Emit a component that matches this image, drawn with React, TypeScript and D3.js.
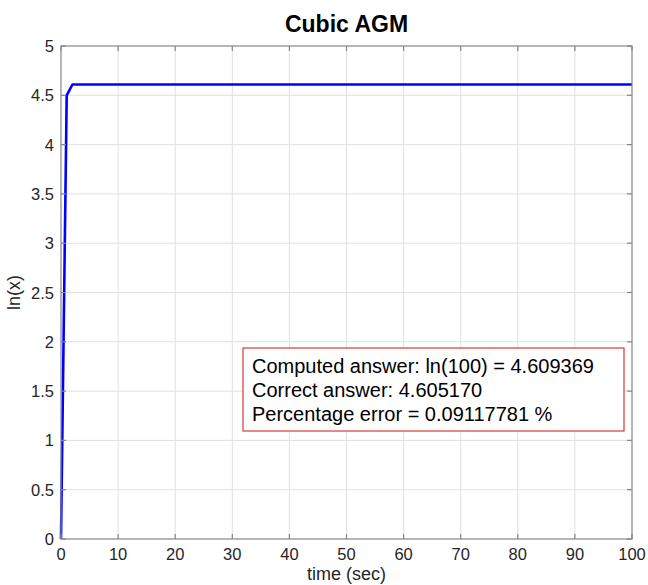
import React from "react";
import * as d3 from "d3";

const width = 648;
const height = 585;
const margin = { top: 46, right: 16, bottom: 46, left: 61 };

// iteration time vs ln(x) estimate
const times = [0, 1, 2, 100];
const values = [0, 4.5, 4.609369, 4.609369];

const xTicks = [0, 10, 20, 30, 40, 50, 60, 70, 80, 90, 100];
const yTicks = [0, 0.5, 1, 1.5, 2, 2.5, 3, 3.5, 4, 4.5, 5];

const infoLines = [
  "Computed answer: ln(100) = 4.609369",
  "Correct answer: 4.605170",
  "Percentage error = 0.09117781 %"
];

const font = "'Liberation Sans', Arial, Helvetica, sans-serif";

export default function App() {
  const x = d3
    .scaleLinear()
    .domain([0, 100])
    .range([margin.left, width - margin.right]);
  const y = d3
    .scaleLinear()
    .domain([0, 5])
    .range([height - margin.bottom, margin.top]);

  const points = times.map((t, i) => [t, values[i]] as [number, number]);
  const line = d3
    .line<[number, number]>()
    .x(d => x(d[0]))
    .y(d => y(d[1]));

  const x0 = x(0), x1 = x(100), y0 = y(0), y1 = y(5);
  const tick = 5;
  const axisColor = "#858585";

  return (
    <svg width={width} height={height} style={{ position: "absolute", left: 0, top: 0, background: "#fff" }}>
      <rect x={0} y={0} width={width} height={height} fill="#fff" />
      {/* grid */}
      <g stroke="#e0e0e0" strokeWidth={1}>
        {xTicks.slice(1, -1).map(t => (
          <line key={"gx" + t} x1={x(t)} x2={x(t)} y1={y0} y2={y1} />
        ))}
        {yTicks.slice(1, -1).map(t => (
          <line key={"gy" + t} x1={x0} x2={x1} y1={y(t)} y2={y(t)} />
        ))}
      </g>
      {/* data */}
      <path d={line(points) || ""} fill="none" stroke="#0000ff" strokeWidth={2.6} strokeLinejoin="round" />
      {/* box + ticks */}
      <g stroke={axisColor} strokeWidth={1.2} fill="none">
        <rect x={x0} y={y1} width={x1 - x0} height={y0 - y1} />
        {xTicks.map(t => (
          <g key={"tx" + t}>
            <line x1={x(t)} x2={x(t)} y1={y0} y2={y0 - tick} />
            <line x1={x(t)} x2={x(t)} y1={y1} y2={y1 + tick} />
          </g>
        ))}
        {yTicks.map(t => (
          <g key={"ty" + t}>
            <line x1={x0} x2={x0 + tick} y1={y(t)} y2={y(t)} />
            <line x1={x1} x2={x1 - tick} y1={y(t)} y2={y(t)} />
          </g>
        ))}
      </g>
      {/* tick labels */}
      <g fontFamily={font} fontSize={16.5} fill="#262626">
        {xTicks.map(t => (
          <text key={"lx" + t} x={x(t)} y={y0 + 21} textAnchor="middle">
            {t}
          </text>
        ))}
        {yTicks.map(t => (
          <text key={"ly" + t} x={x0 - 7} y={y(t) + 6} textAnchor="end">
            {t}
          </text>
        ))}
      </g>
      {/* axis titles */}
      <text x={(x0 + x1) / 2} y={580} textAnchor="middle" fontFamily={font} fontSize={18} fill="#262626">
        time (sec)
      </text>
      <text
        transform={`translate(20, ${(y0 + y1) / 2}) rotate(-90)`}
        textAnchor="middle"
        fontFamily={font}
        fontSize={18}
        fill="#262626"
      >
        ln(x)
      </text>
      <text x={(x0 + x1) / 2} y={32} textAnchor="middle" fontFamily={font} fontSize={23} fontWeight="bold" fill="#000">
        Cubic AGM
      </text>
      {/* annotation */}
      <rect x={243} y={348} width={381} height={83} fill="#fff" stroke="#d63a3a" strokeWidth={1.2} />
      <g fontFamily={font} fontSize={20} fill="#000">
        {infoLines.map((s, i) => (
          <text key={i} x={252} y={373 + i * 24}>
            {s}
          </text>
        ))}
      </g>
    </svg>
  );
}
